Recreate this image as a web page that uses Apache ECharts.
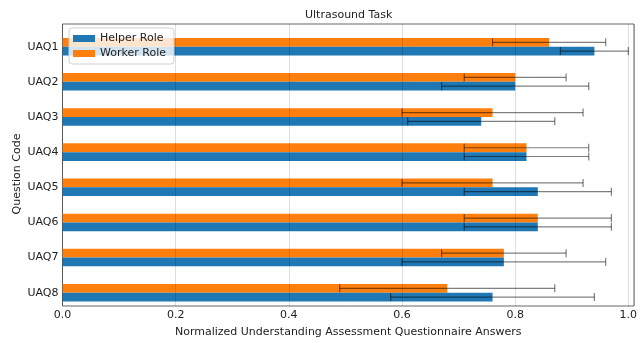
<!DOCTYPE html>
<html>
<head>
<meta charset="utf-8">
<script src="https://cdn.jsdelivr.net/npm/echarts@6/dist/echarts.min.js"></script>
<style>
  html, body { margin: 0; padding: 0; background: #fff; }
  #chart { width: 643px; height: 343px; }
</style>
</head>
<body>
<div id="chart"></div>
<script>
// question codes, top to bottom
var categories = ['UAQ1', 'UAQ2', 'UAQ3', 'UAQ4', 'UAQ5', 'UAQ6', 'UAQ7', 'UAQ8'];
var helperMean = [0.94, 0.80, 0.74, 0.82, 0.84, 0.84, 0.78, 0.76];
var helperErr  = [0.06, 0.13, 0.13, 0.11, 0.13, 0.13, 0.18, 0.18];
var workerMean = [0.86, 0.80, 0.76, 0.82, 0.76, 0.84, 0.78, 0.68];
var workerErr  = [0.10, 0.09, 0.16, 0.11, 0.16, 0.13, 0.11, 0.19];
var xTicks = [0, 0.2, 0.4, 0.6, 0.8, 1.0];

var FONT = 'DejaVu Sans';
var chart = echarts.init(document.getElementById('chart'));

function errRows(mean, err) {
  return mean.map(function (m, i) { return [i, m, err[i]]; });
}

// draws one horizontal error bar, shifted up or down inside the band
function errRender(sign) {
  return function (params, api) {
    var cat = api.value(0), m = api.value(1), e = api.value(2);
    var lo = api.coord([m - e, cat]);
    var hi = api.coord([m + e, cat]);
    var band = api.size([0, 1])[1];
    var y = lo[1] + sign * band * 0.125;
    var cap = 4;
    var st = { stroke: 'rgba(0,0,0,0.5)', lineWidth: 1.2 };
    return {
      type: 'group',
      children: [
        { type: 'line', shape: { x1: lo[0], y1: y, x2: hi[0], y2: y }, style: st },
        { type: 'line', shape: { x1: lo[0], y1: y - cap, x2: lo[0], y2: y + cap }, style: st },
        { type: 'line', shape: { x1: hi[0], y1: y - cap, x2: hi[0], y2: y + cap }, style: st }
      ]
    };
  };
}

chart.setOption({
  animation: false,
  textStyle: { fontFamily: FONT },
  title: {
    text: 'Ultrasound Task',
    left: 305, top: 10, padding: 0,
    textStyle: { fontSize: 11, fontWeight: 'normal', color: '#222', fontFamily: FONT }
  },
  legend: {
    data: ['Helper Role', 'Worker Role'],
    orient: 'vertical',
    left: 69, top: 28,
    padding: [5, 8, 5, 4],
    itemWidth: 22, itemHeight: 7, itemGap: 4,
    icon: 'rect',
    backgroundColor: 'rgba(255,255,255,0.8)',
    borderColor: '#d0d0d0', borderWidth: 1, borderRadius: 3,
    textStyle: { fontSize: 11, color: '#222', fontFamily: FONT }
  },
  grid: [
    // bar area, category bands aligned to the reference
    { left: 62.5, right: 9, top: 29.1, bottom: 32.7 },
    // frame with the gridlines and the box
    { left: 62.5, right: 9, top: 24, bottom: 29, show: true, borderColor: '#666', borderWidth: 1, backgroundColor: 'transparent' }
  ],
  xAxis: [
    { gridIndex: 0, type: 'value', min: 0, max: 1.01, show: false },
    {
      gridIndex: 1, type: 'value', min: 0, max: 1.01, interval: 0.2, z: 5,
      name: 'Normalized Understanding Assessment Questionnaire Answers',
      nameLocation: 'middle', nameGap: 21,
      nameTextStyle: { fontSize: 11, color: '#222', fontFamily: FONT },
      axisLine: { show: false },
      axisTick: { show: false },
      axisLabel: {
        margin: 4, fontSize: 11, color: '#222', fontFamily: FONT,
        customValues: xTicks,
        formatter: function (v) { return v.toFixed(1); }
      },
      splitLine: { show: true, lineStyle: { color: 'rgba(0,0,0,0.13)', width: 1 } }
    }
  ],
  yAxis: [
    {
      gridIndex: 0, type: 'category', data: categories, inverse: true,
      axisLine: { show: false },
      axisTick: { show: false },
      axisLabel: { margin: 4, fontSize: 11, color: '#222', fontFamily: FONT },
      splitLine: { show: false }
    },
    {
      gridIndex: 1, type: 'value', min: 0, max: 1,
      name: 'Question Code', nameLocation: 'middle', nameGap: 40,
      nameTextStyle: { fontSize: 11, color: '#222', fontFamily: FONT, padding: [0, 18, 0, 0] },
      axisLine: { show: false }, axisTick: { show: false },
      axisLabel: { show: false }, splitLine: { show: false }
    }
  ],
  series: [
    {
      name: 'Worker Role', type: 'bar', xAxisIndex: 0, yAxisIndex: 0,
      data: workerMean, barGap: '0%', barCategoryGap: '50%',
      itemStyle: { color: '#ff7f0e' }
    },
    {
      name: 'Helper Role', type: 'bar', xAxisIndex: 0, yAxisIndex: 0,
      data: helperMean, barGap: '0%', barCategoryGap: '50%',
      itemStyle: { color: '#1f77b4' }
    },
    {
      type: 'custom', xAxisIndex: 0, yAxisIndex: 0, z: 3,
      renderItem: errRender(-1),
      encode: { x: 1, y: 0 },
      data: errRows(workerMean, workerErr)
    },
    {
      type: 'custom', xAxisIndex: 0, yAxisIndex: 0, z: 3,
      renderItem: errRender(1),
      encode: { x: 1, y: 0 },
      data: errRows(helperMean, helperErr)
    }
  ]
});
</script>
</body>
</html>
